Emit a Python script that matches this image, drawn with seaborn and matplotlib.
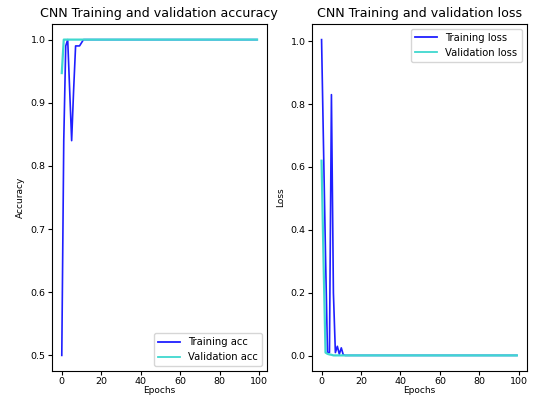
import matplotlib
matplotlib.use("Agg")
import matplotlib.pyplot as plt
import seaborn as sns
import pandas as pd

epochs = list(range(100))

train_acc = [0.50, 0.84, 0.99, 1.00, 0.92, 0.84, 0.92, 0.99, 0.99, 0.99, 0.995] + [1.0] * 89
val_acc = [0.947] + [1.0] * 99

train_loss = [1.005, 0.66, 0.32, 0.01, 0.01, 0.83, 0.20, 0.01, 0.03, 0.005, 0.025, 0.003] + [0.001] * 88
val_loss = [0.62, 0.30, 0.01, 0.006, 0.004, 0.003] + [0.001] * 94

acc_df = pd.DataFrame({"Epochs": epochs * 2,
                       "value": train_acc + val_acc,
                       "series": ["Training acc"] * 100 + ["Validation acc"] * 100})
loss_df = pd.DataFrame({"Epochs": epochs * 2,
                        "value": train_loss + val_loss,
                        "series": ["Training loss"] * 100 + ["Validation loss"] * 100})

plt.rcParams["font.family"] = ["DejaVu Sans"]
fig = plt.figure(figsize=(5.33, 3.97), dpi=100)
ax1 = fig.add_axes([0.0976, 0.065, 0.403, 0.875])
ax2 = fig.add_axes([0.585, 0.065, 0.403, 0.875])

blue = "#1f1fff"
cyan = "#3fd8cf"

sns.lineplot(data=acc_df, x="Epochs", y="value", hue="series",
             palette=[blue, cyan], ax=ax1, linewidth=1.3)
sns.lineplot(data=loss_df, x="Epochs", y="value", hue="series",
             palette=[blue, cyan], ax=ax2, linewidth=1.3)

for ax in (ax1, ax2):
    lines = ax.get_lines()
    lines[0].set_linewidth(1.2)
    lines[1].set_linewidth(1.6)
    lines[1].set_zorder(3)

ax1.set_title("CNN Training and validation accuracy", fontsize=9.1, pad=5)
ax1.set_ylabel("Accuracy", fontsize=6.5)
ax1.set_xlabel("Epochs", fontsize=6.5, labelpad=0)
ax1.set_yticks([0.5, 0.6, 0.7, 0.8, 0.9, 1.0])
ax1.legend(loc="lower right", fontsize=7.2, handlelength=2.2)

ax2.set_title("CNN Training and validation loss", fontsize=9.1, pad=5)
ax2.set_ylabel("Loss", fontsize=6.5)
ax2.set_xlabel("Epochs", fontsize=6.5, labelpad=0)
ax2.set_yticks([0.0, 0.2, 0.4, 0.6, 0.8, 1.0])
ax2.legend(loc="upper right", fontsize=7.2, handlelength=2.2)

for ax in (ax1, ax2):
    ax.set_xticks([0, 20, 40, 60, 80, 100])
    ax.tick_params(labelsize=6.8, length=3, pad=1.5)

fig.savefig("out.png", dpi=100)
